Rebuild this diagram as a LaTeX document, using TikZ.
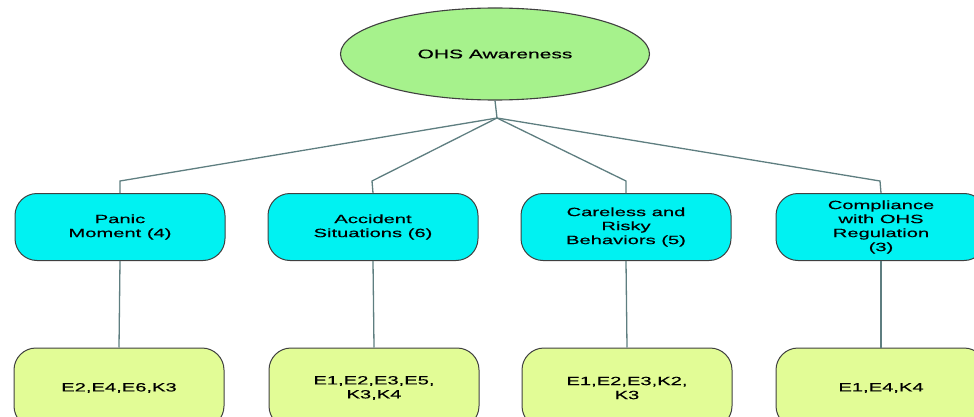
\documentclass[tikz,border=0pt]{standalone}
\usepackage{fontspec}
\setmainfont{Liberation Sans}[FakeStretch=1.68,FakeBold=0.4]
\usetikzlibrary{shapes.geometric}
\definecolor{rootfill}{HTML}{A6F28C}
\definecolor{midfill}{HTML}{00F2F2}
\definecolor{leaffill}{HTML}{E2FC96}
\definecolor{linec}{HTML}{5E7E80}
\tikzset{
  rootnode/.style={ellipse, draw=black!75, line width=1.1pt, fill=rootfill, minimum width=309pt, minimum height=92pt, inner sep=0pt, font=\fontsize{12.5}{14}\selectfont},
  midnode/.style={draw=black!75, line width=1pt, fill=midfill, rounded corners=22pt, minimum width=210pt, minimum height=67pt, inner sep=0pt, align=center, font=\fontsize{12}{14}\selectfont},
  leafnode/.style={draw=black!75, line width=1pt, fill=leaffill, rounded corners=22pt, minimum width=210pt, minimum height=80pt, inner sep=0pt, align=center, font=\fontsize{12}{14}\selectfont},
  conn/.style={draw=linec, line width=1.3pt},
}
\begin{document}
\begin{tikzpicture}[x=1pt,y=-1pt]
\useasboundingbox (0,0) rectangle (974,417);
\node[rootnode] (root) at (495,54) {OHS Awareness};
\coordinate (hub) at (497,118);
\coordinate (j1) at (120,181);
\coordinate (j2) at (372,181);
\coordinate (j3) at (626,181);
\coordinate (j4) at (880,181);
\node[midnode] (m1) at (120,227) {Panic\\Moment (4)};
\node[midnode] (m2) at (373,227) {Accident\\Situations (6)};
\node[midnode] (m3) at (626,227) {Careless and\\Risky\\Behaviors (5)};
\node[midnode] (m4) at (881,227) {Compliance\\with OHS\\Regulation\\(3)};
\node[leafnode] (l1) at (119,388) {E2,E4,E6,K3};
\node[leafnode] (l2) at (374,388) {E1,E2,E3,E5,\\K3,K4};
\node[leafnode] (l3) at (627,388) {E1,E2,E3,K2,\\K3};
\node[leafnode] (l4) at (881,388) {E1,E4,K4};
\draw[conn] (root.south) -- (hub);
\draw[conn] (hub) -- (j1) -- (m1.north);
\draw[conn] (hub) -- (j2) -- (m2.north);
\draw[conn] (hub) -- (j3) -- (m3.north);
\draw[conn] (hub) -- (j4) -- (m4.north);
\draw[conn] (m1.south) -- (l1.north);
\draw[conn] (m2.south) -- (l2.north);
\draw[conn] (m3.south) -- (l3.north);
\draw[conn] (m4.south) -- (l4.north);
\end{tikzpicture}
\end{document}
